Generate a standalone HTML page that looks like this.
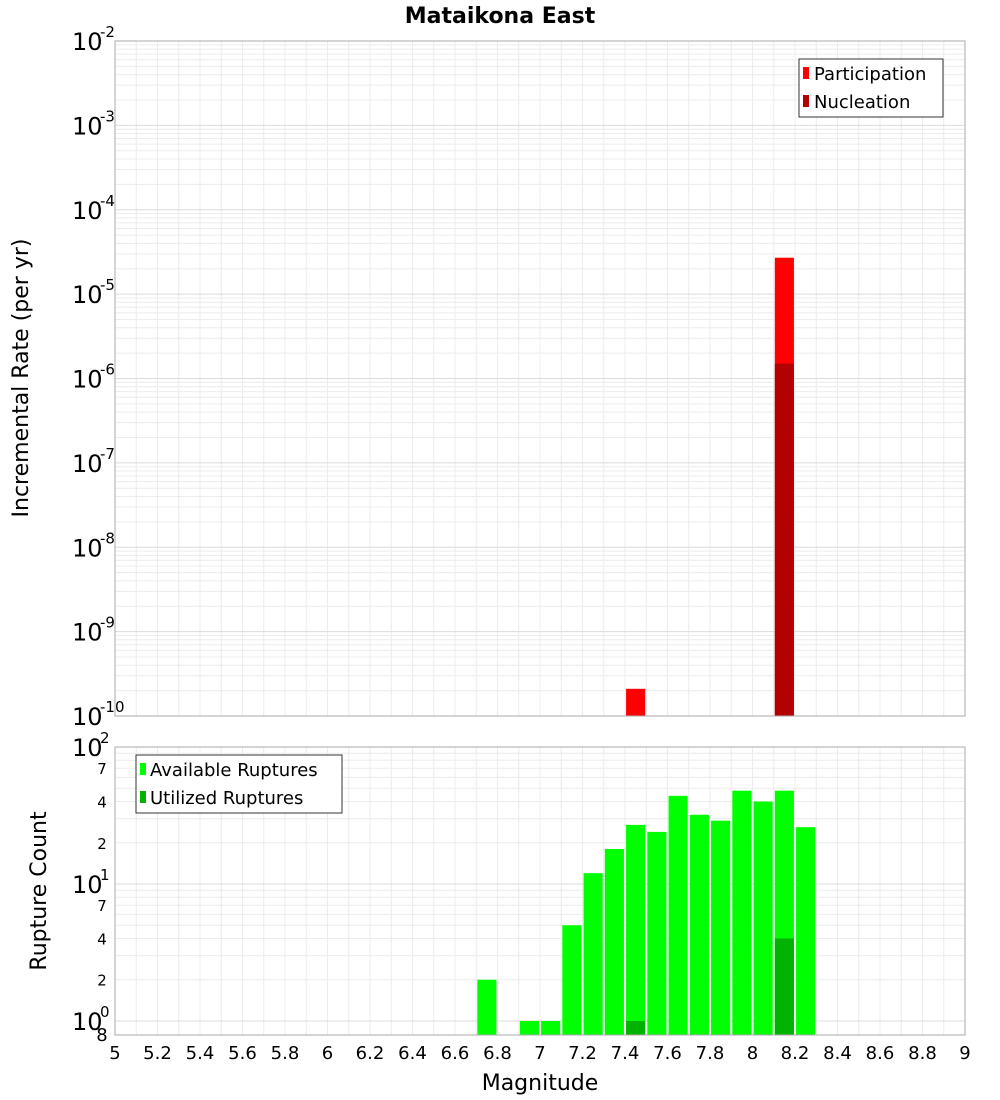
<!DOCTYPE html>
<html><head><meta charset="utf-8"><style>
body{margin:0;background:#fff;font-family:"DejaVu Sans","Liberation Sans",sans-serif}
svg{display:block}
</style></head><body>
<svg id="c" width="1000" height="1100" xmlns="http://www.w3.org/2000/svg">
<text x="500" y="23" text-anchor="middle" font-size="22" font-weight="bold">Mataikona East</text>
<g id="topg"></g>
<g id="botg"></g>
<text transform="translate(28,378) rotate(-90)" text-anchor="middle" font-size="22">Incremental Rate (per yr)</text>
<text transform="translate(46,891) rotate(-90)" text-anchor="middle" font-size="22">Rupture Count</text>
<text x="540" y="1090" text-anchor="middle" font-size="22">Magnitude</text>
<g>
<rect x="799" y="59" width="144" height="58" fill="#fff" stroke="#333"/>
<rect x="803" y="67" width="6" height="12" fill="#ff0000"/>
<text x="814" y="80" font-size="18">Participation</text>
<rect x="803" y="95" width="6" height="12" fill="#b30000"/>
<text x="814" y="108" font-size="18">Nucleation</text>
</g>
<g>
<rect x="136" y="755" width="206" height="58" fill="#fff" stroke="#333"/>
<rect x="140" y="763" width="6" height="12" fill="#00ff00"/>
<text x="150" y="776" font-size="18">Available Ruptures</text>
<rect x="140" y="791" width="6" height="12" fill="#00b300"/>
<text x="150" y="804" font-size="18">Utilized Ruptures</text>
</g>
</svg>
<script>
const partMags=[7.45,8.15];
const partVals=[2.1e-10,2.7e-5];
const nuclMags=[8.15];
const nuclVals=[1.5e-6];
const availMags=[6.75,6.95,7.05,7.15,7.25,7.35,7.45,7.55,7.65,7.75,7.85,7.95,8.05,8.15,8.25];
const availVals=[2,1,1,5,12,18,27,24,44,32,29,48,40,48,26];
const utilMags=[7.45,8.15];
const utilVals=[1,4];
const xTicks=[5,5.2,5.4,5.6,5.8,6,6.2,6.4,6.6,6.8,7,7.2,7.4,7.6,7.8,8,8.2,8.4,8.6,8.8,9];
const topExp=[-10,-9,-8,-7,-6,-5,-4,-3,-2];
const botTickVals=[2,4,7,10,20,40,70,100];
const botTickLabels=["2","4","7","","2","4","7",""];

(function(){
const NS="http://www.w3.org/2000/svg";
const X0=115,X1=965;
const x=m=>X0+(m-5)/4*(X1-X0);
const T0=41,T1=716;
const yT=v=>T1-(Math.log10(v)+10)/8*(T1-T0);
const B0=747,B1=1035,bMin=0.79,bMax=100;
const yB=v=>B1-(Math.log10(v)-Math.log10(bMin))/(Math.log10(bMax)-Math.log10(bMin))*(B1-B0);
function el(p,t,a){const e=document.createElementNS(NS,t);for(const k in a)e.setAttribute(k,a[k]);p.appendChild(e);return e;}
const gTop=document.getElementById('topg'),gBot=document.getElementById('botg');
for(const g of [[gTop,T0,T1],[gBot,B0,B1]]){
  for(let i=0;i<=40;i++){const m=5+i*0.1;el(g[0],'line',{x1:x(m),x2:x(m),y1:g[1],y2:g[2],stroke:'#ececec'});}
}
for(let e=-10;e<-2;e++)for(let k=1;k<10;k++){const y=yT(k*Math.pow(10,e));el(gTop,'line',{x1:X0,x2:X1,y1:y,y2:y,stroke:k==1?'#dcdcdc':'#ececec'});}
for(const v of [1,2,3,4,5,6,7,8,9,10,20,30,40,50,60,70,80,90]){const y=yB(v);el(gBot,'line',{x1:X0,x2:X1,y1:y,y2:y,stroke:(v==1||v==10)?'#dcdcdc':'#ececec'});}
const bw=0.09;
partMags.forEach((m,i)=>{const r=el(gTop,'rect',{x:x(m-bw/2),width:x(m+bw/2)-x(m-bw/2),y:yT(partVals[i]),height:T1-yT(partVals[i]),fill:'#ff0000'});

});
nuclMags.forEach((m,i)=>{const r=el(gTop,'rect',{x:x(m-bw/2),width:x(m+bw/2)-x(m-bw/2),y:yT(nuclVals[i]),height:T1-yT(nuclVals[i]),fill:'#b30000'});

});
availMags.forEach((m,i)=>{const r=el(gBot,'rect',{x:x(m-bw/2),width:x(m+bw/2)-x(m-bw/2),y:yB(availVals[i]),height:B1-yB(availVals[i]),fill:'#00ff00'});

});
utilMags.forEach((m,i)=>{const r=el(gBot,'rect',{x:x(m-bw/2),width:x(m+bw/2)-x(m-bw/2),y:yB(utilVals[i]),height:B1-yB(utilVals[i]),fill:'#00b300'});

});
el(gTop,'rect',{x:X0,y:T0,width:X1-X0,height:T1-T0,fill:'none',stroke:'#aaa'});
el(gBot,'rect',{x:X0,y:B0,width:X1-X0,height:B1-B0,fill:'none',stroke:'#aaa'});
topExp.forEach(e=>{const y=yT(Math.pow(10,e));const t=el(gTop,'text',{x:72,y:y+9,'font-size':24});t.textContent='10';


const s=el(gTop,'text',{x:100,y:y-4,'font-size':15});s.textContent=String(e);});
[[1,'0'],[10,'1'],[100,'2']].forEach(([v,e])=>{const y=yB(v);const t=el(gBot,'text',{x:72,y:y+9,'font-size':24});t.textContent='10';


const s=el(gBot,'text',{x:100,y:y-4,'font-size':15});s.textContent=e;});
botTickVals.forEach((v,i)=>{if(!botTickLabels[i])return;const t=el(gBot,'text',{x:102,y:yB(v)+6,'font-size':15,'text-anchor':'middle'});t.textContent=botTickLabels[i];});
{const t=el(gBot,'text',{x:102,y:1041,'font-size':18,'text-anchor':'middle'});t.textContent='8';}
xTicks.forEach(m=>{const t=el(gBot,'text',{x:x(m),y:1059,'font-size':18,'text-anchor':'middle'});t.textContent=String(m);

});
})();
</script>
</body></html>
